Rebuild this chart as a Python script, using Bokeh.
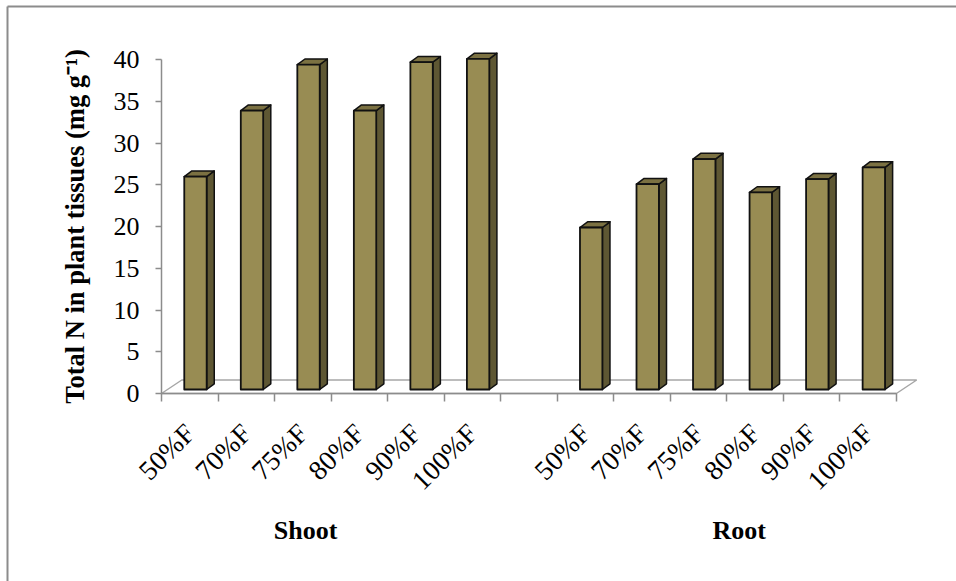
import math

from bokeh.embed import file_html
from bokeh.models import FixedTicker, LinearAxis, Range1d
from bokeh.plotting import figure
from bokeh.resources import INLINE

# Total N in plant tissues (mg g-1) per fertiliser treatment
treatments = ["50%F", "70%F", "75%F", "80%F", "90%F", "100%F"]
shoot_n = [25.5, 33.4, 38.9, 33.4, 39.2, 39.6]
root_n = [19.4, 24.6, 27.6, 23.6, 25.2, 26.6]
groups = ["Shoot", "Root"]
y_ticks = [0, 5, 10, 15, 20, 25, 30, 35, 40]

# ---- layout (pixels on the canvas) ----
W, H = 956, 581
AXIS_X_PX = 161          # value axis line
FLOOR_FRONT_PX = 393     # front edge of the floor = value 0 on the axis
BAR_BASE_PX = 389        # bars stand a little behind the front edge
GROUP_AXIS_PX = 505      # line the group names hang from
FRAME_LEFT_PX, FRAME_TOP_PX = 7, 6
SLOT_PX = 56.53          # width of one category slot
UNIT_PX = 8.35           # pixels per mg g-1

# ---- pseudo-3D styling (in slot / value units) ----
BAR_W = 22.4 / SLOT_PX
BAR_SHIFT = 5.7 / SLOT_PX
DEPTH_DX = 7.6 / SLOT_PX
DEPTH_DY = 5.7 / UNIT_PX
FLOOR_DX = 20.3 / SLOT_PX
FLOOR_DY = 13.5 / UNIT_PX

FRONT = "#988c53"
SIDE = "#5e5733"
TOP = "#7b7142"
EDGE = "#111111"
AXIS_GREY = "#8c8c8c"
FLOOR_GREY = "#a6a6a6"
FONT = "Liberation Serif"

n = len(treatments)
gap = 1
centers = list(range(n)) + [n + gap + i for i in range(n)]
values = shoot_n + root_n
labels = treatments + treatments
n_slots = 2 * n + gap
x0 = -0.5                       # left boundary of the first slot
group_pos = [2.05, 9.72]


def px_to_x(px):
    return x0 + (px - AXIS_X_PX) / SLOT_PX


def py_to_y(py):
    return (BAR_BASE_PX - py) / UNIT_PX


# the frame covers the whole canvas; axes are pinned inside it
p = figure(
    width=W, height=H,
    x_range=Range1d(px_to_x(0), px_to_x(W)),
    y_range=Range1d(py_to_y(H), py_to_y(0)),
    x_axis_type=None, y_axis_type=None,
    output_backend="svg", toolbar_location=None,
    min_border_left=0, min_border_right=0,
    min_border_top=0, min_border_bottom=0,
)
p.outline_line_color = None
p.background_fill_color = "white"
p.border_fill_color = "white"

# value axis: its zero sits on the front edge of the floor
p.extra_y_ranges = {"value": Range1d((FLOOR_FRONT_PX - H) / UNIT_PX,
                                     FLOOR_FRONT_PX / UNIT_PX)}
yaxis = LinearAxis(
    y_range_name="value",
    fixed_location=x0,
    ticker=FixedTicker(ticks=y_ticks),
    bounds=(y_ticks[0], y_ticks[-1]),
    axis_label="Total N in plant tissues (mg g\u207b\u00b9)",
    axis_label_text_font=FONT,
    axis_label_text_font_style="bold",
    axis_label_text_font_size="26.5px",
    axis_label_text_color="black",
    axis_label_standoff=21,
    major_label_text_font=FONT,
    major_label_text_font_size="26px",
    major_label_text_color="black",
    major_label_standoff=16,
    axis_line_color=AXIS_GREY, axis_line_width=1.5,
    major_tick_line_color=AXIS_GREY, major_tick_line_width=1.5,
    major_tick_out=6, major_tick_in=0,
    minor_tick_line_color=None,
)
p.add_layout(yaxis, "left")

# category axis along the floor front: slot boundaries as ticks,
# treatment names at the slot centres
xaxis = LinearAxis(
    fixed_location=py_to_y(FLOOR_FRONT_PX),
    ticker=FixedTicker(ticks=centers, minor_ticks=[x0 + k for k in range(n_slots + 1)]),
    bounds=(x0, x0 + n_slots),
    major_label_overrides={c: lab for c, lab in zip(centers, labels)},
    major_label_orientation=math.pi / 4,
    major_label_text_font=FONT,
    major_label_text_font_size="27.5px",
    major_label_text_color="black",
    major_label_standoff=27,
    axis_line_color=AXIS_GREY, axis_line_width=1.5,
    major_tick_line_color=None, major_tick_out=0, major_tick_in=0,
    minor_tick_line_color=AXIS_GREY, minor_tick_line_width=1.5,
    minor_tick_out=8, minor_tick_in=0,
)
p.add_layout(xaxis, "below")

# group names under each block of treatments
gaxis = LinearAxis(
    fixed_location=py_to_y(GROUP_AXIS_PX),
    ticker=FixedTicker(ticks=group_pos),
    major_label_overrides={g: name for g, name in zip(group_pos, groups)},
    major_label_text_font=FONT,
    major_label_text_font_style="bold",
    major_label_text_font_size="26px",
    major_label_text_color="black",
    major_label_standoff=10,
    axis_line_color=None,
    major_tick_line_color=None, major_tick_out=0, major_tick_in=0,
    minor_tick_line_color=None,
)
p.add_layout(gaxis, "below")

# floor of the chart
fy0 = py_to_y(FLOOR_FRONT_PX)
p.patch(
    x=[x0, x0 + n_slots, x0 + n_slots + FLOOR_DX, x0 + FLOOR_DX],
    y=[fy0, fy0, fy0 + FLOOR_DY, fy0 + FLOOR_DY],
    fill_color=None, line_color=FLOOR_GREY, line_width=1.5,
)

# bars: side face, top face, then front face
lefts = [c + BAR_SHIFT - BAR_W / 2 for c in centers]
rights = [c + BAR_SHIFT + BAR_W / 2 for c in centers]

side_xs = [[r, r + DEPTH_DX, r + DEPTH_DX, r] for r in rights]
side_ys = [[0, DEPTH_DY, v + DEPTH_DY, v] for v in values]
p.patches(side_xs, side_ys, fill_color=SIDE, line_color=EDGE, line_width=1.5,
          line_join="round")

top_xs = [[l, r, r + DEPTH_DX, l + DEPTH_DX] for l, r in zip(lefts, rights)]
top_ys = [[v, v, v + DEPTH_DY, v + DEPTH_DY] for v in values]
p.patches(top_xs, top_ys, fill_color=TOP, line_color=EDGE, line_width=1.5,
          line_join="round")

p.quad(left=lefts, right=rights, bottom=0, top=values,
       fill_color=FRONT, line_color=EDGE, line_width=1.8, line_join="round")

# chart area frame (left and top edges fall inside the page)
fl, ft = px_to_x(FRAME_LEFT_PX), py_to_y(FRAME_TOP_PX)
p.segment(x0=[fl, fl], y0=[ft, ft], x1=[fl, px_to_x(W + 10)], y1=[py_to_y(H + 10), ft],
          line_color=AXIS_GREY, line_width=2)

open("out.html", "w").write(file_html(p, INLINE))
